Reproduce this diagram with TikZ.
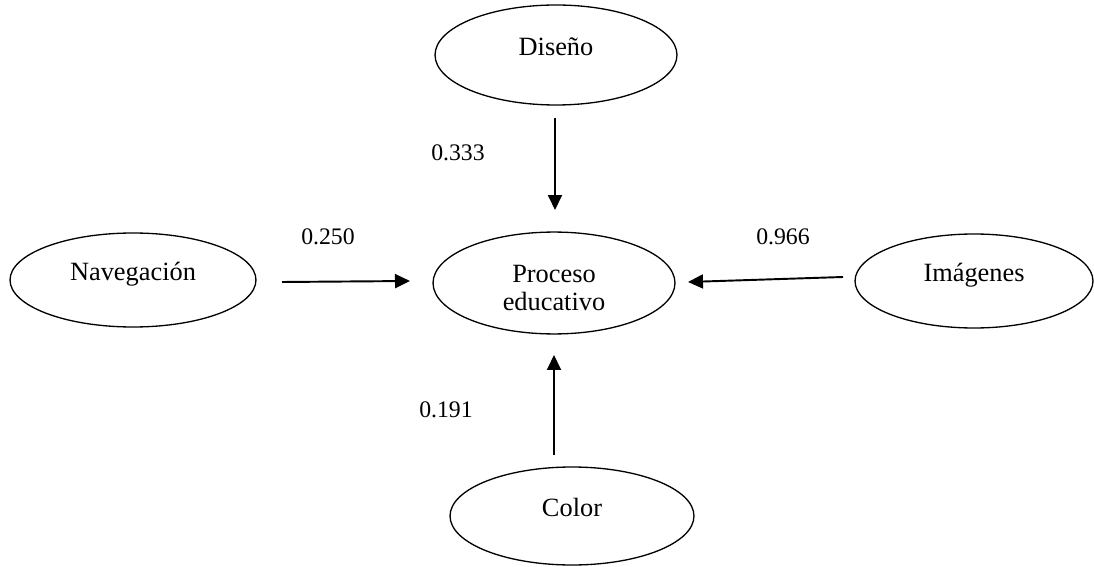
\documentclass[tikz,border=0pt]{standalone}
\usepackage{fontspec}
\setmainfont{Liberation Serif}
\usepackage{tikz}
\usetikzlibrary{shapes,arrows.meta,positioning}

\tikzset{
    factor/.style={draw, ellipse, line width=0.75pt, inner sep=0pt, font=\fontsize{15}{16}\selectfont},
    peso/.style={font=\fontsize{13.5}{15}\selectfont},
    flecha/.style={line width=1.1pt, -{Triangle[length=0.3cm, width=0.28cm]}}
}

\begin{document}
\begin{tikzpicture}[x=0.02cm, y=-0.02cm]
    \useasboundingbox (0,0) rectangle (1094,567);

    % Factores
    \node[factor, minimum width=4.84cm, minimum height=2cm, text depth=0.35cm] (diseno) at (556,55) {Diseño};
    \node[factor, minimum width=4.92cm, minimum height=1.88cm, text depth=0.35cm] (navegacion) at (133,280) {Navegación};
    \node[factor, minimum width=4.76cm, minimum height=1.88cm, text depth=0.35cm] (imagenes) at (974,281) {Imágenes};
    \node[factor, minimum width=4.88cm, minimum height=1.96cm, text depth=0.35cm] (color) at (572,516) {Color};

    % Centro
    \node[factor, minimum width=4.84cm, minimum height=2cm, text height=20.2pt] (proceso) at (554,283)
        {\begin{tabular}[t]{@{}c@{}}Proceso\\educativo\end{tabular}};

    % Extremos de las flechas
    \coordinate (d1) at (555,118);
    \coordinate (d2) at (555,210);
    \coordinate (n1) at (282,282);
    \coordinate (n2) at (410,281);
    \coordinate (i1) at (843,277);
    \coordinate (i2) at (688,282);
    \coordinate (c1) at (554,455);
    \coordinate (c2) at (554,355);

    % Flechas
    \draw[flecha] (d1) -- (d2);
    \draw[flecha] (n1) -- (n2);
    \draw[flecha] (i1) -- (i2);
    \draw[flecha] (c1) -- (c2);

    % Pesos
    \node[peso] (pd) at (458,153) {0.333};
    \node[peso] (pn) at (328,237) {0.250};
    \node[peso] (pi) at (783,237) {0.966};
    \node[peso] (pc) at (446,410) {0.191};
\end{tikzpicture}
\end{document}
